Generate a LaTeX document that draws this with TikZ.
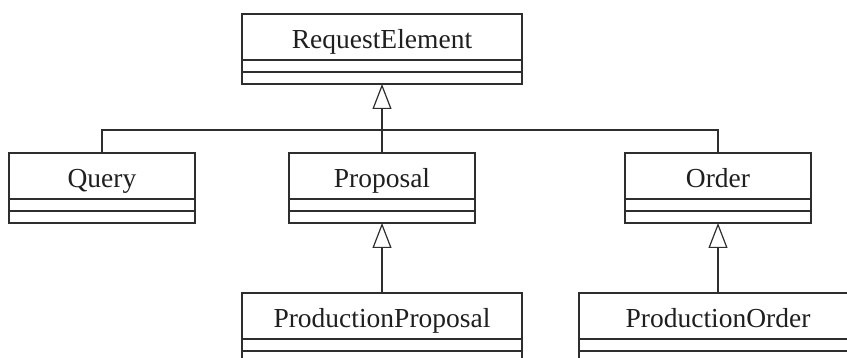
\documentclass[tikz,border=0pt]{standalone}
\usepackage{fontspec}
\setmainfont{Liberation Serif}
\usetikzlibrary{arrows.meta,positioning}
\begin{document}
\begin{tikzpicture}[x=1pt,y=-1pt,
  lc/.style={draw=black!82, line width=1.2pt},
  namebox/.style={lc, rectangle, inner sep=0pt, outer sep=0pt, minimum height=46pt,
     text height=24pt, text depth=0pt, font=\fontsize{27.5}{30}\selectfont, text=black!88},
  compbox/.style={lc, rectangle, inner sep=0pt, outer sep=0pt, minimum height=12pt, anchor=north},
  inherit/.style={lc, -{Triangle[open, length=25pt, width=19pt, line width=1.2pt]}}
]
\useasboundingbox (0,0) rectangle (847,358);
\clip (0,0) rectangle (847,358);

% RequestElement
\node[namebox, minimum width=280pt, anchor=north] (re) at (382,14) {RequestElement};
\node[compbox, minimum width=280pt] (reA) at (re.south) {};
\node[compbox, minimum width=280pt] (reB) at (reA.south) {};

% Query
\node[namebox, minimum width=186pt, anchor=north] (qu) at (102,153) {Query};
\node[compbox, minimum width=186pt] (quA) at (qu.south) {};
\node[compbox, minimum width=186pt] (quB) at (quA.south) {};

% Proposal
\node[namebox, minimum width=186pt, anchor=north] (pr) at (382,153) {Proposal};
\node[compbox, minimum width=186pt] (prA) at (pr.south) {};
\node[compbox, minimum width=186pt] (prB) at (prA.south) {};

% Order
\node[namebox, minimum width=186pt, anchor=north] (or) at (718,153) {Order};
\node[compbox, minimum width=186pt] (orA) at (or.south) {};
\node[compbox, minimum width=186pt] (orB) at (orA.south) {};

% ProductionProposal
\node[namebox, minimum width=280pt, anchor=north] (pp) at (382,293) {ProductionProposal};
\node[compbox, minimum width=280pt] (ppA) at (pp.south) {};
\node[compbox, minimum width=280pt] (ppB) at (ppA.south) {};

% ProductionOrder
\node[namebox, minimum width=278pt, anchor=north] (po) at (718,293) {ProductionOrder};
\node[compbox, minimum width=278pt] (poA) at (po.south) {};
\node[compbox, minimum width=278pt] (poB) at (poA.south) {};

% connectors
\coordinate (j) at (382,130);
\draw[lc] (qu.north) |- (j);
\draw[lc] (or.north) |- (j);
\draw[inherit] (pr.north) -- (j) -- (reB.south);
\draw[inherit] (pp.north) -- (prB.south);
\draw[inherit] (po.north) -- (orB.south);
\end{tikzpicture}
\end{document}
